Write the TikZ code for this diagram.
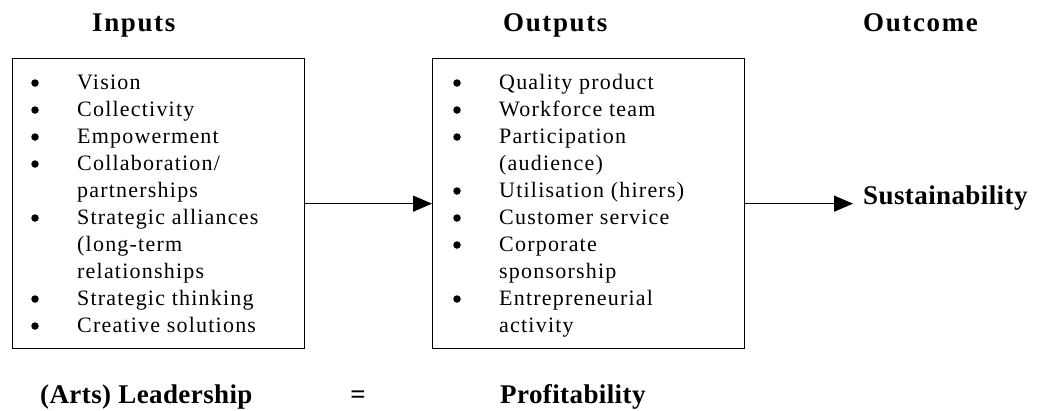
\documentclass[tikz,border=0pt]{standalone}
\usepackage{fontspec}
\setmainfont{Liberation Serif}
\newfontfamily\itemfont[LetterSpace=5.5]{Liberation Serif}
\newfontfamily\headfont[LetterSpace=6]{Liberation Serif}
\newfontfamily\tagfont[LetterSpace=1.5]{Liberation Serif}
\usetikzlibrary{arrows.meta,positioning}

\begin{document}
\begin{tikzpicture}[x=1pt,y=-1pt,
  box/.style={draw,line width=1.3pt,inner sep=0pt,anchor=north west,minimum height=290pt},
  item/.style={anchor=base west,inner sep=0pt,font=\itemfont\fontsize{22}{27}\selectfont},
  dot/.style={circle,fill,inner sep=0pt,minimum size=7.5pt},
  head/.style={anchor=base west,inner sep=0pt,font=\headfont\bfseries\fontsize{27}{32}\selectfont},
  tag/.style={anchor=base west,inner sep=0pt,font=\tagfont\bfseries\fontsize{27}{32}\selectfont},
  link/.style={line width=1.3pt,-{Triangle[length=19pt,width=16pt]}}]

\useasboundingbox (0,0) rectangle (1044,410);

\def\rowH{27}
\def\firstrow{89}

% the two boxes
\node[box,minimum width=292pt] (In) at (12,58) {};
\node[box,minimum width=312pt] (Out) at (432,58) {};

% column heads
\node[head] (inHead) at (92,31) {Inputs};
\node[head] (outHead) at (503,31) {Outputs};
\node[head] (endHead) at (863,31) {Outcome};

% left list, 1 = bullet on that row
\foreach \b/\t [count=\i from 0] in {1/Vision,1/Collectivity,1/Empowerment,
    1/Collaboration\slash,0/partnerships,1/Strategic alliances,0/(long-term,
    0/relationships,1/Strategic thinking,1/Creative solutions} {
  \node[item] (in-\i) at (77,\firstrow+\rowH*\i) {\t};
  \ifnum\b=1 \node[dot] (in-dot-\i) at (35,\firstrow+\rowH*\i-6) {}; \fi
}

% right list
\foreach \b/\t [count=\i from 0] in {1/Quality product,1/Workforce team,1/Participation,
    0/(audience),1/Utilisation (hirers),1/Customer service,1/Corporate,
    0/sponsorship,1/Entrepreneurial,0/activity} {
  \node[item] (out-\i) at (499,\firstrow+\rowH*\i) {\t};
  \ifnum\b=1 \node[dot] (out-dot-\i) at (457,\firstrow+\rowH*\i-6) {}; \fi
}

\node[tag,inner xsep=10pt] (S) at (853,204) {Sustainability};

% bottom line
\node[tag] (lead) at (40,403) {(Arts) Leadership};
\node[tag,anchor=base] (eq) at (358,403) {=};
\node[tag] (profit) at (500,403) {Profitability};

\draw[link] (In.east) -- (Out.west);
\draw[link] (Out.east) -- (Out.east -| S.west);

\end{tikzpicture}
\end{document}
